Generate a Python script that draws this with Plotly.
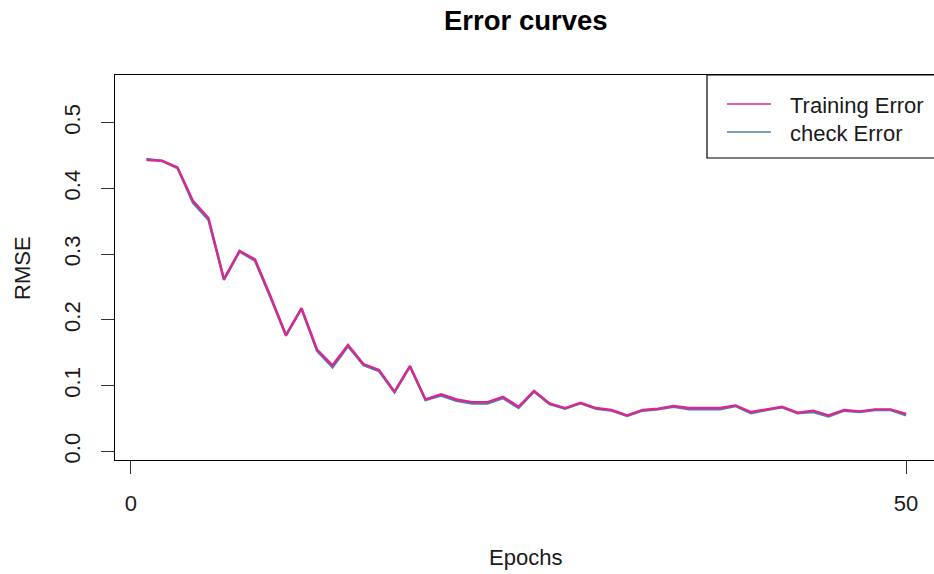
import plotly.graph_objects as go

# RMSE per training epoch
epochs = list(range(1, 51))
training_error = [
    0.443, 0.442, 0.432, 0.381, 0.355, 0.262, 0.305, 0.292, 0.236, 0.177,
    0.218, 0.155, 0.131, 0.162, 0.133, 0.124, 0.091, 0.130, 0.079, 0.087,
    0.079, 0.075, 0.075, 0.083, 0.068, 0.092, 0.073, 0.066, 0.074, 0.066,
    0.063, 0.055, 0.063, 0.065, 0.069, 0.066, 0.066, 0.066, 0.070, 0.060,
    0.064, 0.068, 0.059, 0.062, 0.055, 0.063, 0.061, 0.064, 0.064, 0.057,
]
check_error = [
    0.445, 0.442, 0.431, 0.378, 0.352, 0.261, 0.304, 0.290, 0.234, 0.176,
    0.217, 0.153, 0.128, 0.160, 0.131, 0.122, 0.090, 0.129, 0.078, 0.085,
    0.077, 0.073, 0.073, 0.081, 0.066, 0.091, 0.072, 0.065, 0.073, 0.065,
    0.062, 0.054, 0.062, 0.064, 0.068, 0.064, 0.064, 0.064, 0.069, 0.058,
    0.063, 0.067, 0.058, 0.060, 0.053, 0.062, 0.060, 0.063, 0.063, 0.055,
]
series_names = ["Training Error", "check Error"]
x_ticks = [0, 50]
y_ticks = [0.0, 0.1, 0.2, 0.3, 0.4, 0.5]

PINK = "#D9288F"
BLUE = "#4F7FAF"
FONT = "Liberation Sans, Arial, sans-serif"
TXT = "#1a1a1a"

W, H = 934, 574
L, R, T, B = 115, 0, 75, 114
pw, ph = W - L - R, H - T - B


def px_x(p):
    """pixel column -> paper x"""
    return (p - L) / pw


def px_y(p):
    """pixel row -> paper y"""
    return (H - B - p) / ph


fig = go.Figure()
fig.add_trace(go.Scatter(x=epochs, y=check_error, mode="lines", name=series_names[1],
                         line=dict(color=BLUE, width=2.4), showlegend=False))
fig.add_trace(go.Scatter(x=epochs, y=training_error, mode="lines", name=series_names[0],
                         line=dict(color=PINK, width=2.4), showlegend=False))

# boxed key in the top-right corner
shapes = [
    dict(type="rect", xref="paper", yref="paper",
         x0=px_x(707), x1=px_x(945), y0=px_y(158), y1=px_y(75),
         line=dict(color="black", width=1.2), fillcolor="white", layer="above"),
]
annotations = []
for name, color, row in [(series_names[0], PINK, 104), (series_names[1], BLUE, 132)]:
    shapes.append(dict(type="line", xref="paper", yref="paper",
                       x0=px_x(727), x1=px_x(771), y0=px_y(row), y1=px_y(row),
                       line=dict(color=color, width=1.3), layer="above"))
    annotations.append(dict(text=name, x=px_x(788), y=px_y(row + 1),
                            xref="paper", yref="paper", xanchor="left", yanchor="middle",
                            showarrow=False, font=dict(family=FONT, size=22, color=TXT)))

annotations += [
    dict(text="<b>Error curves</b>", x=px_x(525.5), y=px_y(20),
         xref="paper", yref="paper", xanchor="center", yanchor="middle",
         showarrow=False, font=dict(family=FONT, size=27.5, color="black")),
    dict(text="Epochs", x=px_x(525), y=px_y(557),
         xref="paper", yref="paper", xanchor="center", yanchor="middle",
         showarrow=False, font=dict(family=FONT, size=22, color=TXT)),
    dict(text="RMSE", x=px_x(22), y=px_y(268),
         xref="paper", yref="paper", xanchor="center", yanchor="middle",
         textangle=-90, showarrow=False, font=dict(family=FONT, size=22, color=TXT)),
]

fig.update_layout(
    width=W, height=H,
    margin=dict(l=L, r=R, t=T, b=B),
    paper_bgcolor="white", plot_bgcolor="white",
    font=dict(family=FONT, size=22, color=TXT),
    showlegend=False,
    xaxis=dict(
        range=[-1.03, 51.8], tickvals=x_ticks, ticktext=[str(v) for v in x_ticks],
        showgrid=False, zeroline=False, showline=True, linecolor="black",
        linewidth=1.2, mirror=True, ticks="outside", ticklen=13,
        tickcolor="#333", tickwidth=1.2, ticklabelstandoff=10,
    ),
    yaxis=dict(
        range=[-0.013, 0.5725], tickvals=y_ticks,
        ticktext=[f"{v:.1f}" for v in y_ticks], tickangle=-90,
        showgrid=False, zeroline=False, showline=True, linecolor="black",
        linewidth=1.2, ticks="outside", ticklen=13,
        tickcolor="#333", tickwidth=1.2, ticklabelstandoff=12,
    ),
    shapes=shapes,
    annotations=annotations,
)

fig.write_html("out.html")
